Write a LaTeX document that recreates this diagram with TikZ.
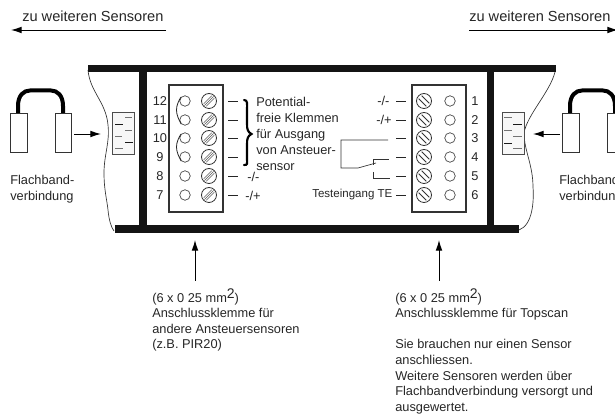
\documentclass[tikz,border=0pt]{standalone}
\usepackage{fontspec}
\setmainfont{Liberation Sans}
\usetikzlibrary{arrows.meta}
\tikzset{
  txt/.style={inner sep=0pt,anchor=west,font=\fontsize{9.6pt}{11.7pt}\selectfont,text=black!85},
  block/.style={txt,anchor=north west,align=left},
  pot block/.style={block,font=\fontsize{9.6pt}{12pt}\selectfont},
  num/.style={inner sep=0pt,font=\fontsize{9.6pt}{10pt}\selectfont,text=black!85},
  bar/.style={fill=black!92,draw=none},
  termbox/.style={draw=black!80,line width=1.2pt,fill=white},
  hole/.style={circle,draw=black!75,line width=0.5pt,minimum size=10.5pt*0.75,inner sep=0pt},
  screw/.style={circle,draw=black!80,line width=0.6pt,minimum size=15pt*0.75,inner sep=0pt},
  tick/.style={draw=black!85,line width=0.8pt},
  thin line/.style={draw=black!80,line width=0.5pt},
  flow/.style={draw=black,line width=0.7pt,-{Latex[length=8pt,width=5pt]}},
  plug/.style={draw=black!80,line width=0.5pt,fill=white},
  strip/.style={draw=black!70,line width=0.6pt,fill=black!3},
  ribbon/.style={draw=black,line width=3pt,line cap=butt},
  jump/.style={draw=black!85,line width=0.6pt}
}
\newcommand{\hatchR}[2]{% screw slot "\" at x,y
  \draw[black!80,line width=0.55pt] (#1-5.3,#2-2.3)--(#1+2.3,#2+5.3) (#1-2.3,#2-5.3)--(#1+5.3,#2+2.3);}
\newcommand{\hatchL}[2]{% screw slot "/" at x,y
  \draw[black!65,line width=0.4pt] (#1-5.3,#2+2.9)--(#1+2.9,#2-5.3) (#1-2.9,#2+5.3)--(#1+5.3,#2-2.9) (#1-4.6,#2+4.6)--(#1+4.6,#2-4.6);}
\begin{document}
\begin{tikzpicture}[x=0.75pt,y=-0.75pt]
\useasboundingbox (0,0) rectangle (615,416);
\clip (0,0) rectangle (615,416);
% top arrows
\node[txt,font=\fontsize{10.95pt}{12pt}\selectfont] (tl) at (22,16) {zu weiteren Sensoren};
\node[txt,font=\fontsize{10.95pt}{12pt}\selectfont] (tr) at (469,16) {zu weiteren Sensoren};
\coordinate (al) at (166,30); \coordinate (ale) at (11,30);
\coordinate (ar) at (469,30); \coordinate (are) at (618,30);
\draw[flow] (al)--(ale);
\draw[flow] (ar)--(are);
% wavy edges
\draw[thin line] (88,70) .. controls (90,92) and (106,102) .. (108,125) .. controls (110,142) and (104,155) .. (104,173) .. controls (104,190) and (107,200) .. (108,210) .. controls (109,220) and (111,227) .. (114,231);
\draw[thin line] (555,72) .. controls (550,92) and (527,115) .. (524,133) .. controls (524,150) and (533,165) .. (533,187) .. controls (534,200) and (533,225) .. (519,230);
% housing
\fill[bar] (88,65) rectangle (556,72);
\fill[bar] (139,72) rectangle (147,233);
\fill[bar] (486.5,72) rectangle (493.5,233);
\fill[bar] (115,225) rectangle (519,233);
% terminals
\draw[termbox] (169,85) rectangle (223,212);
\draw[termbox] (412,85) rectangle (466,212);
\foreach \n/\y/\r in {12/101/1,11/120/2,10/138/3,9/157/4,8/176/5,7/195/6}{
  \node[num] (nl\r) at (160,\y) {\n};
  \node[hole] (hl\r) at (185,\y) {};
  \node[screw] (sl\r) at (209,\y) {};
  \hatchL{209}{\y}
  \draw[tick] (228,\y+0.5)--(238,\y+0.5);
  \node[screw] (sr\r) at (424,\y) {};
  \hatchR{424}{\y}
  \node[hole] (hr\r) at (450,\y) {};
  \node[num] (nr\r) at (475,\y) {\r};
  \draw[tick] (396,\y+0.5)--(406,\y+0.5);
}
% jumpers
\draw[jump] (hl1.north west) .. controls (179,100) and (176.5,105) .. (176.5,110) .. controls (176.5,115) and (179,120) .. (hl2.south west);
\draw[jump] (hl3.north west) .. controls (179,137) and (176.5,142) .. (176.5,147) .. controls (176.5,152) and (179,157) .. (hl4.south west);
% brace
\draw[black,line width=1.6pt,line cap=round] (244,100) .. controls (248,100) and (247,104) .. (247,110) -- (247,124) .. controls (247,130) and (248,132) .. (251.5,134) .. controls (248,136) and (247,138) .. (247,144) -- (247,158) .. controls (247,164) and (248,165) .. (244,165);
% left labels
\node[pot block] (pot) at (256,97) {Potential-\\freie Klemmen\\für Ausgang\\von Ansteuer-\\sensor};
\node[txt] (ll1) at (247,177) {-/-};
\node[txt] (ll2) at (245,196) {-/+};
\node[txt] (rl1) at (377,101) {-/-};
\node[txt] (rl2) at (376,120) {-/+};
\node[txt,font=\fontsize{8.65pt}{10pt}\selectfont] (te) at (312,195) {Testeingang TE};
% relay
\coordinate (c1) at (388,140); \coordinate (c2) at (341,140); \coordinate (c3) at (341,168); \coordinate (c4) at (358,168); \coordinate (c5) at (376,163);
\coordinate (c6) at (373,165); \coordinate (c7) at (373,159); \coordinate (c8) at (389,159);
\coordinate (c9) at (373,172); \coordinate (c10) at (373,178); \coordinate (c11) at (390,178);
\draw[thin line] (c1)--(c2)--(c3)--(c4)--(c5);
\draw[thin line] (c6)--(c7)--(c8);
\draw[thin line] (c9)--(c10)--(c11);
% left flat connector
\draw[ribbon] (18,113)--(18,106) .. controls (18,95) and (24,90.5) .. (30,90.5) -- (51,90.5) .. controls (57,90.5) and (63,95) .. (63,106) -- (63,113);
\draw[plug] (10.5,113) rectangle (27,152);
\draw[plug] (55,113) rectangle (71.5,152);
\draw[strip] (112.5,112) rectangle (134.5,154);
\foreach \a/\b/\y/\c in {125/132/117/55,115/123/124/90,125/132/130/55,115/122/136/55,125/133/142/90,115/123/148/55}{\draw[black!\c,line width=0.6pt] (\a,\y)--(\b,\y);}
\coordinate (a1) at (74,134); \coordinate (a1e) at (101,134);
\draw[flow] (a1)--(a1e);
% right flat connector
\draw[ribbon] (570,113)--(570,106) .. controls (570,95) and (576,90.5) .. (582,90.5) -- (603,90.5) .. controls (609,90.5) and (615,95) .. (615,106) -- (615,113);
\draw[plug] (562,113) rectangle (579,152);
\draw[plug] (607,113) rectangle (624,152);
\draw[strip] (502,112) rectangle (524,154);
\foreach \a/\b/\y/\c in {504/512/117/55,513/522/124/90,504/512/130/55,513/522/136/55,504/512/143/90,513/522/148/55}{\draw[black!\c,line width=0.6pt] (\a,\y)--(\b,\y);}
\coordinate (a2) at (560,134); \coordinate (a2e) at (533,134);
\draw[flow] (a2)--(a2e);
% flat labels
\node[block] (fl) at (10,175) {Flachband-\\verbindung};
\node[block] (fr) at (559,175) {Flachband-\\verbindung};
% bottom arrows
\coordinate (b1) at (195,281); \coordinate (b1e) at (195,240);
\coordinate (b2) at (439,281); \coordinate (b2e) at (439,240);
\draw[flow] (b1)--(b1e);
\draw[flow] (b2)--(b2e);
% bottom texts
\node[block] (bl) at (152,288.5) {(6 x 0 25 mm\raisebox{2.6pt}{\fontsize{10.5pt}{10pt}\selectfont 2})\\Anschlussklemme für\\andere Ansteuersensoren\\(z.B. PIR20)};
\node[block] (br) at (395,288.5) {(6 x 0 25 mm\raisebox{2.6pt}{\fontsize{10.5pt}{10pt}\selectfont 2})\\Anschlussklemme für Topscan\\[11.7pt]Sie brauchen nur einen Sensor\\anschliessen.\\Weitere Sensoren werden über\\Flachbandverbindung versorgt und\\ausgewertet.};
\end{tikzpicture}
\end{document}
